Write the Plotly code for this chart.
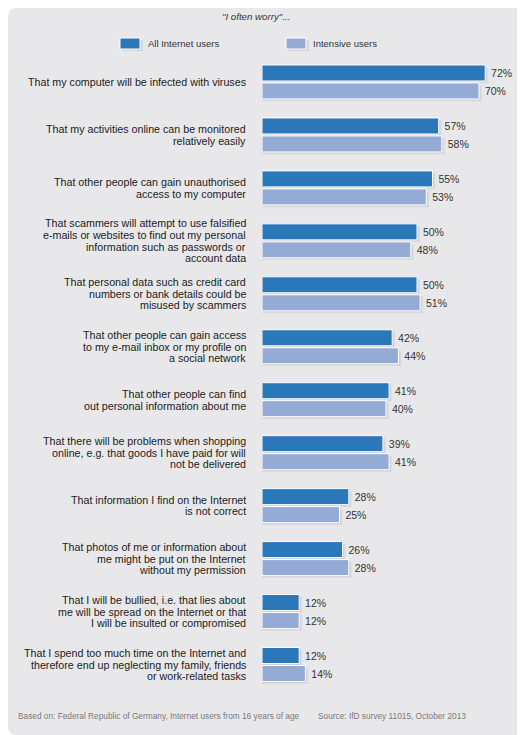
import plotly.graph_objects as go

# survey items, top to bottom
items = [
    "That my computer will be infected with viruses",
    "That my activities online can be monitored<br>relatively easily",
    "That other people can gain unauthorised<br>access to my computer",
    "That scammers will attempt to use falsified<br>e-mails or websites to find out my personal<br>information such as passwords or<br>account data",
    "That personal data such as credit card<br>numbers or bank details could be<br>misused by scammers",
    "That other people can gain access<br>to my e-mail inbox or my profile on<br>a social network",
    "That other people can find<br>out personal information about me",
    "That there will be problems when shopping<br>online, e.g. that goods I have paid for will<br>not be delivered",
    "That information I find on the Internet<br>is not correct",
    "That photos of me or information about<br>me might be put on the Internet<br>without my permission",
    "That I will be bullied, i.e. that lies about<br>me will be spread on the Internet or that<br>I will be insulted or compromised",
    "That I spend too much time on the Internet and<br>therefore end up neglecting my family, friends<br>or work-related tasks",
]
all_users = [72, 57, 55, 50, 50, 42, 41, 39, 28, 26, 12, 12]
intensive = [70, 58, 53, 48, 51, 44, 40, 41, 25, 28, 12, 14]

series_names = ["All Internet users", "Intensive users"]
colors = ["#2a77b9", "#94abd6"]

# the page adds an 8px body margin, so the figure is drawn 8px smaller
OFF = 8
W, H = 525 - OFF, 735 - OFF
pitch = 52.95            # px per category
bar_h = 16 / pitch
font = "Liberation Sans, Arial, sans-serif"


def px(x):
    return (x - OFF) / W


def py(y):
    return 1 - (y - OFF) / H


fig = go.Figure()

# soft shadows behind the bars
for vals, off in [(all_users, -17), (intensive, 1)]:
    for k, alpha in [(2.5, 0.06), (1.5, 0.08)]:
        fig.add_trace(go.Bar(
            y=items, x=[v + k / 3.1 * 1.2 for v in vals], orientation="h",
            offset=(off + k) / pitch, width=bar_h,
            marker=dict(color=f"rgba(60,60,70,{alpha})", line_width=0),
            hoverinfo="skip", showlegend=False,
        ))

for vals, off, name, col in [(all_users, -17, series_names[0], colors[0]),
                             (intensive, 1, series_names[1], colors[1])]:
    fig.add_trace(go.Bar(
        y=items, x=vals, orientation="h", name=name,
        offset=off / pitch, width=bar_h,
        marker=dict(color=col, line=dict(color="white", width=1)),
        text=[f"\u00a0{v}%" for v in vals], textposition="outside",
        textfont=dict(size=10.5, color="#333333", family=font),
        cliponaxis=False, showlegend=False,
    ))

# item labels, one annotation per line for tight spacing
ann = []
for it in items:
    lines = it.split("<br>")
    n = len(lines)
    for i, ln in enumerate(lines):
        ann.append(dict(
            x=px(248), xref="paper", y=it, yref="y", text=ln,
            xanchor="right", yanchor="middle", showarrow=False,
            yshift=((n - 1) / 2 - i) * 11.6,
            font=dict(size=10.7, color="#222222", family=font),
        ))

ann.append(dict(x=px(256), y=py(17), xref="paper", yref="paper",
                text="<i>\"I often worry\"...</i>", showarrow=False,
                xanchor="center", yanchor="middle",
                font=dict(size=9.7, color="#333333", family=font)))
ann.append(dict(x=px(146), y=py(43), xref="paper", yref="paper",
                text=series_names[0], showarrow=False, xanchor="left",
                yanchor="middle", font=dict(size=9.5, color="#333333", family=font)))
ann.append(dict(x=px(311), y=py(43), xref="paper", yref="paper",
                text=series_names[1], showarrow=False, xanchor="left",
                yanchor="middle", font=dict(size=9.5, color="#333333", family=font)))
ann.append(dict(x=px(16), y=py(716), xref="paper", yref="paper",
                text="Based on: Federal Republic of Germany, Internet users from 16 years of age",
                showarrow=False, xanchor="left", yanchor="middle",
                font=dict(size=8.3, color="#7a7a7a", family=font)))
ann.append(dict(x=px(316), y=py(716), xref="paper", yref="paper",
                text="Source: IfD survey 11015, October 2013",
                showarrow=False, xanchor="left", yanchor="middle",
                font=dict(size=8.3, color="#7a7a7a", family=font)))

# rounded grey panel
r = 9
rx, ry = r / W, r / H
panel = (f"M {rx},0 L {1-rx},0 Q 1,0 1,{ry} L 1,{1-ry} Q 1,1 {1-rx},1 "
         f"L {rx},1 Q 0,1 0,{1-ry} L 0,{ry} Q 0,0 {rx},0 Z")
shapes = [dict(type="path", path=panel, xref="paper", yref="paper",
               fillcolor="#e8e8ea", line_width=0, layer="below")]
# legend swatches
for x0, col in [(120, colors[0]), (286, colors[1])]:
    shapes.append(dict(type="rect", xref="paper", yref="paper",
                       x0=px(x0 + 2), x1=px(x0 + 23),
                       y0=py(51), y1=py(40),
                       fillcolor="rgba(60,60,70,0.10)", line_width=0))
    shapes.append(dict(type="rect", xref="paper", yref="paper",
                       x0=px(x0), x1=px(x0 + 20),
                       y0=py(49), y1=py(38),
                       fillcolor=col, line=dict(color="white", width=1)))

fig.update_layout(
    width=W, height=H,
    margin=dict(l=0, r=0, t=0, b=0),
    paper_bgcolor="white", plot_bgcolor="rgba(0,0,0,0)",
    barmode="overlay",
    xaxis=dict(domain=[px(262), 1], range=[0, (525 - 262) / 3.1], visible=False),
    yaxis=dict(domain=[py(691), py(55.5)], autorange="reversed",
               visible=False, type="category"),
    annotations=ann, shapes=shapes,
    font=dict(family=font),
)

fig.write_html("out.html")
